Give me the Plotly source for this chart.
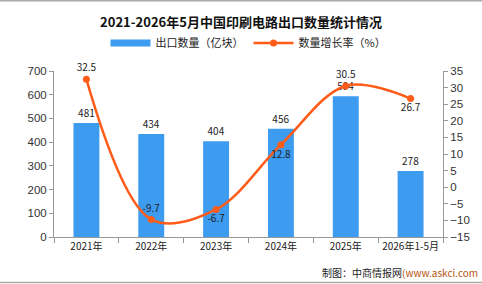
import plotly.graph_objects as go

categories = ["2021年", "2022年", "2023年", "2024年", "2025年", "2026年1-5月"]
export_qty = [481, 434, 404, 456, 594, 278]
growth = [32.5, -9.7, -6.7, 12.8, 30.5, 26.7]
growth_pos = ["top center", "top center", "bottom center", "bottom center", "top center", "bottom center"]

bar_color = "#3d9bf0"
line_color = "#ff5c1a"
font_cn = "Noto Sans CJK SC"

L, R, T, B = 54, 39, 71, 47
PW, PH = 482 - L - R, 284 - T - B

fig = go.Figure()
fig.add_trace(go.Bar(
    x=categories, y=export_qty, name="出口数量（亿块）", showlegend=False,
    marker=dict(color=bar_color, line=dict(width=0)),
    text=[str(v) for v in export_qty], textposition="outside",
    textfont=dict(size=10, color="#222", family=font_cn),
    cliponaxis=False,
))
# legend-only entry to show a wide rectangular swatch
fig.add_trace(go.Scatter(
    x=[None], y=[None], name="出口数量（亿块）", mode="lines",
    line=dict(color=bar_color, width=7),
))
fig.add_trace(go.Scatter(
    x=categories, y=growth, name="数量增长率（%）", yaxis="y2",
    mode="lines+markers+text",
    line=dict(color=line_color, width=2.5, shape="spline", smoothing=1.0),
    marker=dict(color=line_color, size=7),
    text=[f"{v:.1f}" for v in growth], textposition=growth_pos,
    textfont=dict(size=10, color="#222", family=font_cn),
    cliponaxis=False,
))

fig.update_layout(
    width=482, height=284,
    margin=dict(l=L, r=R, t=T, b=B),
    paper_bgcolor="white", plot_bgcolor="white",
    font=dict(family=font_cn, color="#333"),
    title=dict(text="<b>2021-2026年5月中国印刷电路出口数量统计情况</b>",
               x=0.5, xanchor="center", y=1 - 22 / 284, yanchor="middle",
               font=dict(size=13, color="#111", family=font_cn)),
    legend=dict(orientation="h", x=0.5, xanchor="center", y=1 + 28 / PH, yanchor="middle",
                font=dict(size=11, color="#222"), itemwidth=40, tracegroupgap=0,
                bgcolor="rgba(0,0,0,0)"),
    bargap=0.6,
    showlegend=True,
    xaxis=dict(showline=True, linecolor="#999", ticks="outside", tickcolor="#999",
               ticklen=5, tickson="boundaries", showgrid=False, tickangle=0,
               tickfont=dict(size=10, color="#222")),
    yaxis=dict(range=[0, 700], dtick=100, showline=True, linecolor="#999",
               ticks="outside", tickcolor="#999", ticklen=4, showgrid=False,
               zeroline=False, tickfont=dict(size=11.5, color="#333",
                                             family="Liberation Sans")),
    yaxis2=dict(range=[-15, 35], dtick=5, overlaying="y", side="right",
                showline=True, linecolor="#999", ticks="outside", tickcolor="#999",
                ticklen=4, showgrid=False, zeroline=False,
                tickfont=dict(size=11.5, color="#333", family="Liberation Sans")),
)

fig.add_annotation(
    xref="paper", yref="paper", x=(480 - L) / PW, xanchor="right",
    y=-(272 - T - PH) / PH, yanchor="middle", showarrow=False,
    text="制图：中商情报网<span style='color:#b5530f'>(www.askci.com</span>",
    font=dict(size=10, color="#222"),
)
fig.add_shape(type="line", xref="paper", yref="paper", x0=-1, x1=2,
              y0=-(282.5 - T - PH) / PH, y1=-(282.5 - T - PH) / PH,
              line=dict(color="#aaa", width=1.5))
fig.add_shape(type="line", xref="paper", yref="paper", x0=-1, x1=2,
              y0=1 + (T - 0.8) / PH, y1=1 + (T - 0.8) / PH,
              line=dict(color="#aaa", width=1.5))

fig.write_html("out.html")
